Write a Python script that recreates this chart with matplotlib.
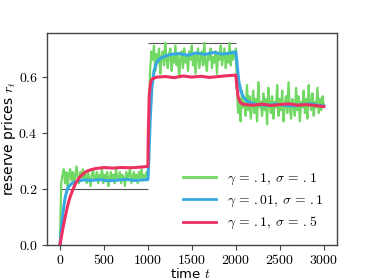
import numpy as np
import matplotlib
matplotlib.use("Agg")
import matplotlib.pyplot as plt
from matplotlib.ticker import FuncFormatter

plt.rcParams['mathtext.fontset'] = 'cm'
plt.rcParams['font.family'] = ['DejaVu Sans']

# ---- data ----
green_p1 = [0.00, 0.22, 0.25, 0.27, 0.22, 0.26, 0.20, 0.25, 0.27, 0.23, 0.26, 0.21, 0.25, 0.28, 0.24,
            0.22, 0.26, 0.24, 0.27, 0.23, 0.25, 0.22, 0.26, 0.24, 0.21, 0.25, 0.27, 0.23, 0.24, 0.26,
            0.22, 0.25, 0.24, 0.27, 0.22, 0.25, 0.23, 0.26, 0.21, 0.24, 0.26, 0.23, 0.25, 0.22, 0.27,
            0.24, 0.23, 0.26, 0.22, 0.25, 0.24, 0.21, 0.26, 0.23, 0.25, 0.27, 0.22, 0.24, 0.26, 0.23,
            0.25, 0.22, 0.26, 0.24, 0.27, 0.23, 0.25, 0.24, 0.26, 0.25]
green_p2 = [0.45, 0.63, 0.69, 0.66, 0.71, 0.62, 0.68, 0.65, 0.70, 0.61, 0.67, 0.69, 0.64, 0.72, 0.66,
            0.63, 0.68, 0.70, 0.62, 0.67, 0.65, 0.71, 0.64, 0.68, 0.60, 0.66, 0.69, 0.63, 0.70, 0.65,
            0.67, 0.62, 0.69, 0.66, 0.71, 0.64, 0.68, 0.61, 0.67, 0.70, 0.63, 0.66, 0.69, 0.64, 0.72,
            0.65, 0.62, 0.68, 0.66, 0.70, 0.63, 0.67, 0.65, 0.69, 0.61, 0.68, 0.66, 0.71, 0.64, 0.67,
            0.70, 0.63, 0.68, 0.65, 0.72, 0.64, 0.69, 0.66, 0.68, 0.70]
green_p3 = [0.56, 0.47, 0.52, 0.44, 0.55, 0.49, 0.51, 0.46, 0.57, 0.48, 0.53, 0.45, 0.50, 0.55, 0.47,
            0.52, 0.44, 0.58, 0.49, 0.51, 0.46, 0.54, 0.48, 0.52, 0.43, 0.56, 0.50, 0.47, 0.53, 0.45,
            0.51, 0.49, 0.57, 0.46, 0.52, 0.48, 0.55, 0.44, 0.50, 0.53, 0.47, 0.58, 0.49, 0.45, 0.52,
            0.50, 0.46, 0.56, 0.48, 0.53, 0.44, 0.51, 0.49, 0.55, 0.47, 0.52, 0.45, 0.57, 0.50, 0.48,
            0.54, 0.46, 0.51, 0.49, 0.56, 0.47, 0.52, 0.48, 0.53, 0.50]

blue_t = [0, 20, 40, 60, 80, 100, 130, 170, 220, 270, 350, 450, 550, 650, 750, 850, 950, 1000,
          1010, 1025, 1045, 1070, 1100, 1140, 1190, 1250, 1350, 1450, 1550, 1650, 1750, 1850, 1950, 2000,
          2015, 2035, 2060, 2090, 2130, 2180, 2250, 2350, 2450, 2550, 2650, 2750, 2850, 2950, 3000]
blue_r = [0.00, 0.07, 0.13, 0.17, 0.195, 0.208, 0.218, 0.225, 0.229, 0.232, 0.230, 0.233, 0.229, 0.231,
          0.234, 0.230, 0.232, 0.233, 0.30, 0.44, 0.56, 0.62, 0.65, 0.665, 0.672, 0.678, 0.682, 0.676,
          0.684, 0.679, 0.686, 0.680, 0.684, 0.688, 0.64, 0.58, 0.545, 0.525, 0.512, 0.505, 0.500,
          0.497, 0.502, 0.498, 0.495, 0.500, 0.503, 0.497, 0.495]

red_t = [0, 20, 40, 60, 80, 100, 120, 150, 180, 220, 260, 300, 350, 400, 500, 600, 700, 800, 900, 1000,
         1005, 1015, 1030, 1050, 1100, 1200, 1300, 1400, 1500, 1600, 1700, 1800, 1900, 2000,
         2010, 2025, 2045, 2070, 2100, 2200, 2300, 2400, 2500, 2600, 2700, 2800, 2900, 3000]
red_r = [0.00, 0.035, 0.07, 0.10, 0.13, 0.155, 0.175, 0.20, 0.22, 0.24, 0.252, 0.262, 0.268, 0.272,
         0.276, 0.274, 0.276, 0.275, 0.277, 0.28, 0.40, 0.53, 0.58, 0.592, 0.598, 0.600, 0.596, 0.602,
         0.598, 0.601, 0.597, 0.600, 0.603, 0.605, 0.57, 0.53, 0.51, 0.503, 0.500, 0.498, 0.502, 0.497,
         0.500, 0.503, 0.498, 0.500, 0.497, 0.493]

ref_levels = [0.2, 0.72, 0.5]
ref_starts = [0, 1000, 2000]
ref_ends = [1000, 2000, 3000]

labels = [r'$\gamma\,=\,{.1},\;\sigma\,=\,{.1}$',
          r'$\gamma\,=\,{.01},\;\sigma\,=\,{.1}$',
          r'$\gamma\,=\,{.1},\;\sigma\,=\,{.5}$']
colors = ['#72d864', '#38a8e2', '#ec3060']

green_t = np.concatenate([np.linspace(0, 1000, len(green_p1)),
                          np.linspace(1012, 2000, len(green_p2)),
                          np.linspace(2012, 3000, len(green_p3))])
green_r = np.concatenate([green_p1, green_p2, green_p3])

fig = plt.figure(figsize=(3.74, 2.8), dpi=100)
ax = fig.add_axes([0.125, 0.125, 0.776, 0.757])

ax.hlines(ref_levels, ref_starts, ref_ends, color='#555555', lw=0.8, zorder=1)
ax.plot(green_t, green_r, color=colors[0], lw=1.6, label=labels[0], zorder=2)
ax.plot(blue_t, blue_r, color=colors[1], lw=2.2, label=labels[1], zorder=3)
ax.plot(red_t, red_r, color=colors[2], lw=2.2, label=labels[2], zorder=4)

ax.set_xlim(-150, 3150)
ax.set_ylim(0, 0.755)
ax.set_xticks([0, 500, 1000, 1500, 2000, 2500, 3000])
ax.set_yticks([0.0, 0.2, 0.4, 0.6])
ax.xaxis.set_major_formatter(FuncFormatter(lambda v, p: r'$%d$' % v))
ax.yaxis.set_major_formatter(FuncFormatter(lambda v, p: r'$%.1f$' % v))
ax.tick_params(labelsize=10, color='#444444', length=3.5, width=0.8, pad=3)
ax.tick_params(axis='x', pad=2)
for s in ax.spines.values():
    s.set_color('#444444')
    s.set_linewidth(1.0)

ax.set_xlabel(r'time $t$', fontsize=9.5)
ax.set_ylabel(r'reserve prices $r_t$', fontsize=10)
ax.xaxis.set_label_coords(0.494, -0.102)
ax.yaxis.set_label_coords(-0.100, 0.5)

leg = ax.legend(loc='lower right', frameon=False, fontsize=9.8, handlelength=2.4,
                handletextpad=0.8, labelspacing=0.45, borderaxespad=0.6)
for l in leg.get_lines():
    l.set_linewidth(2.0)

fig.savefig('out.png', dpi=100)
